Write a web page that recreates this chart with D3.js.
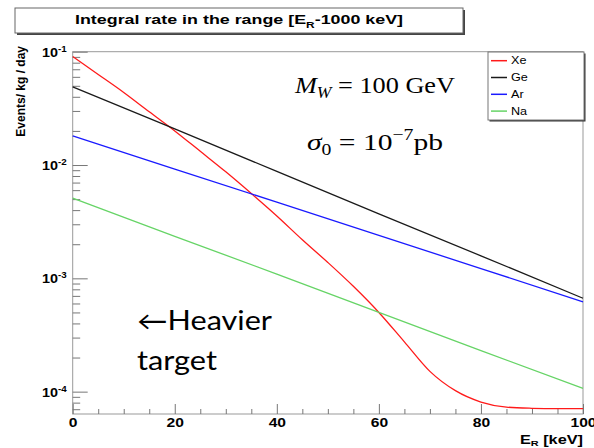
<!DOCTYPE html>
<html>
<head>
<meta charset="utf-8">
<script src="https://cdn.jsdelivr.net/npm/d3@7"></script>
<style>
  body { margin: 0; background: #fff; }
  svg { display: block; }
</style>
</head>
<body>
<script>
// Data (events / kg / day)
let targets = ['Xe', 'Ge', 'Ar', 'Na'];
let colors = ['#ff1a1a', '#1a1a1a', '#1a1aff', '#66d466'];

let xeEnergy = [0, 5, 10, 15, 20, 25, 30, 35, 40, 45, 50, 55, 60, 65, 70, 75, 80, 85, 90, 95, 100];
let xeRate = [0.0906, 0.063, 0.0437, 0.0295, 0.020, 0.0132, 0.0087, 0.0056, 0.00355, 0.00219, 0.00138,
              8.5e-4, 5.0e-4, 2.75e-4, 1.51e-4, 1.02e-4, 8.1e-5, 7.3e-5, 7.13e-5, 7.08e-5, 7.08e-5];

let energy = [0, 20, 40, 60, 80, 100];
let geRate = [0.049, 0.0208, 0.0088, 0.0037, 0.00158, 6.67e-4];
let arRate = [0.0181, 0.0092, 0.0047, 0.00239, 0.00122, 6.2e-4];
let naRate = [5.1e-3, 2.35e-3, 1.09e-3, 5.0e-4, 2.3e-4, 1.07e-4];

let yMajor = [1e-4, 1e-3, 1e-2, 1e-1];
let yExp = ['-4', '-3', '-2', '-1'];
let xMajor = [0, 20, 40, 60, 80, 100];

let width = 594, height = 448;
let margin = {top: 51.7, bottom: 34, left: 72.7, right: 11};
let rootFont = '"Liberation Sans", Arial, sans-serif';

let svg = d3.select('body').append('svg').attr('width', width).attr('height', height)
  .style('background', 'white')
  .style('font-family', rootFont);

// the picture is stretched sideways, so widen text to a measured length
function stretch(sel, k) {
  sel.each(function() {
    let l = this.getComputedTextLength();
    d3.select(this).attr('textLength', l * k).attr('lengthAdjust', 'spacingAndGlyphs');
  });
}

let xScale = d3.scaleLinear().domain([0, 100]).range([margin.left, width - margin.right]);
let yScale = d3.scaleLog().domain([6.35e-5, 0.1]).range([height - margin.bottom, margin.top]);

// title box with shadow
svg.append('rect').attr('x', 17).attr('y', 10).attr('width', 448).attr('height', 25).attr('fill', '#444');
svg.append('rect').attr('x', 15).attr('y', 8).attr('width', 448).attr('height', 25)
  .attr('fill', 'white').attr('stroke', '#666').attr('stroke-width', 1);
let title = svg.append('text').attr('x', 239).attr('y', 24).attr('text-anchor', 'middle')
  .style('font-weight', 'bold').style('font-size', '13.5px');
title.append('tspan').text('Integral rate in the range [E');
title.append('tspan').attr('dy', 4).style('font-size', '9px').text('R');
title.append('tspan').attr('dy', -4).text('-1000 keV]');
title.attr('textLength', 328).attr('lengthAdjust', 'spacingAndGlyphs');

// frame
svg.append('rect').attr('x', margin.left).attr('y', margin.top)
  .attr('width', width - margin.right - margin.left).attr('height', height - margin.bottom - margin.top)
  .attr('fill', 'none').attr('stroke', '#999').attr('stroke-width', 1);

// y axis: minor ticks
let yMinor = [];
yMajor.concat([1e-5]).forEach(d => { for (let k = 2; k <= 9; k++) yMinor.push(d * k); });
yMinor = yMinor.filter(v => v >= yScale.domain()[0] && v <= yScale.domain()[1]);

svg.append('g').attr('transform', `translate(${margin.left},0)`)
  .call(d3.axisLeft(yScale).tickValues(yMinor).tickSize(-7.5).tickFormat(''));
let yAxis = svg.append('g').attr('transform', `translate(${margin.left},0)`)
  .call(d3.axisLeft(yScale).tickValues(yMajor).tickSize(-15).tickPadding(7).tickFormat(''));
svg.selectAll('.domain').remove();
svg.selectAll('.tick line').attr('stroke', '#777');

yAxis.selectAll('.tick').each(function(d, i) {
  let t = d3.select(this).append('text').attr('x', -6).attr('y', 4.5).attr('text-anchor', 'end')
    .attr('fill', 'black').style('font-weight', 'bold').style('font-size', '12.5px')
    .style('font-family', rootFont);
  t.append('tspan').text('10');
  t.append('tspan').attr('dy', -5).style('font-size', '8.5px').text(yExp[i]);
  stretch(t, 1.15);
});

// x axis
let xMinor = d3.range(5, 100, 5).filter(v => xMajor.indexOf(v) < 0);
svg.append('g').attr('transform', `translate(0,${height - margin.bottom})`)
  .call(d3.axisBottom(xScale).tickValues(xMinor).tickSize(-5).tickFormat(''))
  .call(g => g.select('.domain').remove())
  .selectAll('line').attr('stroke', '#777');
let xAxis = svg.append('g').attr('transform', `translate(0,${height - margin.bottom})`)
  .call(d3.axisBottom(xScale).tickValues(xMajor).tickSize(-10).tickPadding(3));
xAxis.select('.domain').remove();
xAxis.selectAll('line').attr('stroke', '#777');
xAxis.selectAll('text').attr('y', 4.5).attr('fill', 'black').style('font-weight', 'bold').style('font-size', '12.5px')
  .style('font-family', rootFont).call(stretch, 1.25);

// axis titles
let xt = svg.append('text').attr('x', width - margin.right).attr('y', 443.5).attr('text-anchor', 'end')
  .style('font-weight', 'bold').style('font-size', '12px');
xt.append('tspan').text('E');
xt.append('tspan').attr('dy', 2.5).style('font-size', '8px').text('R');
xt.append('tspan').attr('dy', -2.5).text(' [keV]');
xt.attr('textLength', 63).attr('lengthAdjust', 'spacingAndGlyphs');

svg.append('text').attr('transform', 'translate(25,46) rotate(-90)').attr('text-anchor', 'end')
  .style('font-weight', 'bold').style('font-size', '12px').text('Events/ kg / day');

// curves
let line = d3.line().x(d => xScale(d[0])).y(d => yScale(d[1]));
let series = [
  xeEnergy.map((e, i) => [e, xeRate[i]]),
  energy.map((e, i) => [e, geRate[i]]),
  energy.map((e, i) => [e, arRate[i]]),
  energy.map((e, i) => [e, naRate[i]])
];
svg.append('g').selectAll('path').data(series).enter().append('path')
  .attr('d', (d, i) => i === 0 ? line.curve(d3.curveMonotoneX)(d) : line.curve(d3.curveLinear)(d))
  .attr('fill', 'none').attr('stroke', (d, i) => colors[i]).attr('stroke-width', 1.3);

// legend
svg.append('rect').attr('x', 489.5).attr('y', 53.5).attr('width', 96).attr('height', 68).attr('fill', '#333');
svg.append('rect').attr('x', 488).attr('y', 52).attr('width', 96).attr('height', 68)
  .attr('fill', 'white').attr('stroke', '#777');
let leg = svg.append('g').selectAll('g').data(targets).enter().append('g')
  .attr('transform', (d, i) => `translate(491,${60.7 + i * 16.8})`);
leg.append('line').attr('x1', 0).attr('x2', 16).attr('stroke', (d, i) => colors[i]).attr('stroke-width', 1.5);
leg.append('text').attr('x', 20).attr('y', 3.5).style('font-size', '10.5px').text(d => d).call(stretch, 1.2);

// annotations
let serif = '"Liberation Serif", "DejaVu Serif", serif';
let m = svg.append('text').attr('x', 295).attr('y', 93).style('font-family', serif).style('font-size', '24px');
m.append('tspan').style('font-style', 'italic').text('M');
m.append('tspan').attr('dy', 5).style('font-style', 'italic').style('font-size', '16px').text('W');
m.append('tspan').attr('dy', -5).text(' = 100 GeV');
m.attr('textLength', 160).attr('lengthAdjust', 'spacingAndGlyphs');

let s = svg.append('text').attr('x', 307).attr('y', 150).style('font-family', serif).style('font-size', '24px');
s.append('tspan').style('font-style', 'italic').text('σ');
s.append('tspan').attr('dy', 5).style('font-size', '16px').text('0');
s.append('tspan').attr('dy', -5).text(' = 10');
s.append('tspan').attr('dy', -10).style('font-size', '16px').text('−7');
s.append('tspan').attr('dy', 10).text('pb');
s.attr('textLength', 136).attr('lengthAdjust', 'spacingAndGlyphs');

let sans = 'Lato, "Open Sans", sans-serif';
svg.append('text').attr('x', 137).attr('y', 330).style('font-family', sans).style('font-size', '26px')
  .attr('textLength', 135).attr('lengthAdjust', 'spacingAndGlyphs').text('←Heavier');
svg.append('text').attr('x', 137).attr('y', 370).style('font-family', sans).style('font-size', '26px')
  .attr('textLength', 80).attr('lengthAdjust', 'spacingAndGlyphs').text('target');
</script>
</body>
</html>
